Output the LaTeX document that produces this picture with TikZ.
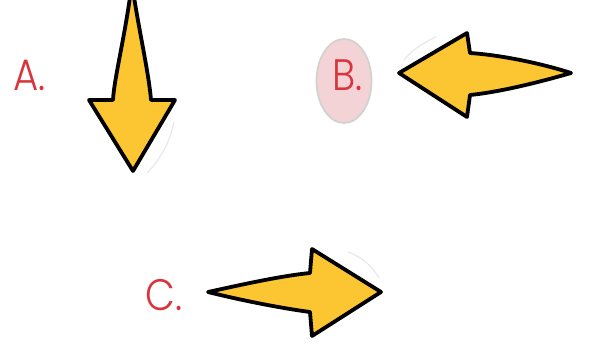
\documentclass[tikz,border=0pt]{standalone}
\usepackage{fontspec}
\usetikzlibrary{shapes.geometric}
\newfontfamily\lblfont[FakeStretch=0.88]{Poppins Light}
\definecolor{arrowfill}{HTML}{FCC532}
\definecolor{lblred}{HTML}{D9343C}
\definecolor{pinkfill}{HTML}{F4D3D6}
\definecolor{ringgray}{HTML}{D2D2D2}
\tikzset{
  fatarrow/.style={draw=black, fill=arrowfill, line width=3.8pt, line join=round},
  lbl/.style={text=lblred, font=\lblfont\fontsize{44}{44}\selectfont, inner sep=0pt, anchor=base west},
  faint/.style={draw=black!9, line width=1.2pt, line cap=round}
}
\begin{document}
\begin{tikzpicture}[x=1pt,y=-1pt]
\useasboundingbox (0,0) rectangle (596,345);
% Arrow A (down)
\draw[fatarrow] (130,-3) .. controls (124,40) and (114,80) .. (113,100) -- (89,100) -- (133,171) -- (175,100) -- (151,100) .. controls (149,75) and (140,35) .. (134,-3) -- cycle;
\draw[faint] (174,122) .. controls (170,142) and (160,160) .. (147,173);
% Arrow B (left)
\draw[fatarrow] (571,73) .. controls (540,63) and (500,55) .. (470,53) -- (467,33) -- (399,73) -- (467,117) -- (470,95) .. controls (500,92) and (540,82) .. (571,73) -- cycle;
\draw[faint] (436,37) .. controls (424,42) and (412,50) .. (404,60);
% Arrow C (right)
\draw[fatarrow] (208,292) .. controls (240,285) and (280,276) .. (310,273) -- (312,249) -- (381,292) -- (312,336) -- (310,312) .. controls (280,308) and (240,300) .. (208,292) -- cycle;
\draw[faint] (348,252) .. controls (362,257) and (372,266) .. (379,278);
% Labels
\node[lbl] (la) at (13,90) {A.};
\node[draw=ringgray, fill=pinkfill, line width=1.8pt, ellipse, minimum width=55pt, minimum height=84pt, inner sep=0pt] (eb) at (344,81) {};
\node[lbl] (lb) at (332,90) {B.};
\node[lbl] (lc) at (145,310) {C.};
\end{tikzpicture}
\end{document}
